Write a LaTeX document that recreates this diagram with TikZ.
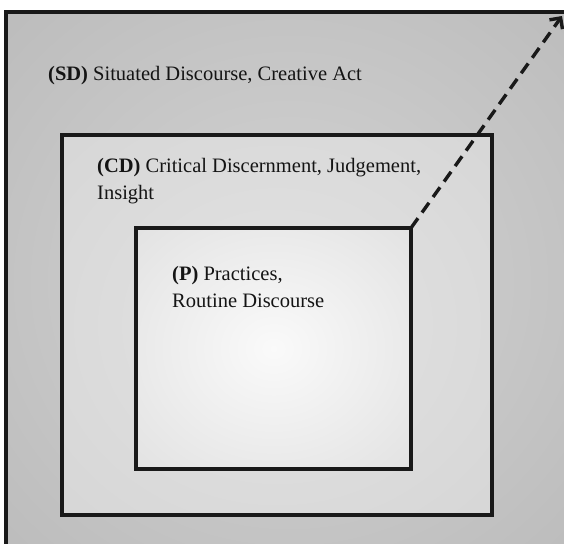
\documentclass[tikz,border=0pt]{standalone}
\usepackage{fontspec}
\setmainfont{Liberation Serif}
\usetikzlibrary{arrows.meta}

\definecolor{frame}{gray}{0.10}
\definecolor{sdIn}{gray}{0.83}
\definecolor{sdOut}{gray}{0.70}
\definecolor{cdIn}{gray}{0.89}
\definecolor{cdOut}{gray}{0.82}
\definecolor{pIn}{gray}{0.98}
\definecolor{pOut}{gray}{0.85}
\pgfdeclareradialshading{sdglow}{\pgfpoint{0bp}{0bp}}{color(0bp)=(sdIn); color(50bp)=(sdOut)}
\pgfdeclareradialshading{cdglow}{\pgfpoint{0bp}{0bp}}{color(0bp)=(cdIn); color(50bp)=(cdOut)}
\pgfdeclareradialshading{pglow}{\pgfpoint{0bp}{0bp}}{color(0bp)=(pIn); color(50bp)=(pOut)}

\begin{document}
\begin{tikzpicture}[x=1pt, y=-1pt,
    box/.style={draw=frame, line width=3.4pt, inner sep=0pt, outer sep=0pt, anchor=north west, shade},
    lbl/.style={anchor=base west, inner sep=0pt, align=left, text=black!92, font=\fontsize{20.5}{26.5}\selectfont}]
    \useasboundingbox (0,0) rectangle (564,543);
    \clip (0,0) rectangle (564,543);
    % nested levels
    \node[box, shading=sdglow, minimum width=566pt, minimum height=540pt] (SD) at (6,12) {};
    \node[box, shading=cdglow, minimum width=430pt, minimum height=380pt] (CD) at (62,135) {};
    \node[box, shading=pglow, minimum width=275pt, minimum height=241pt] (P) at (136,228) {};
    % labels (base = last line)
    \node[lbl] (SDtxt) at (48,80) {\textbf{(SD)} Situated Discourse, Creative Act};
    \node[lbl] (CDtxt) at (97,199) {\textbf{(CD)} Critical Discernment, Judgement,\\Insight};
    \node[lbl] (Ptxt) at (172,307) {\textbf{(P)} Practices,\\Routine Discourse};
    \coordinate (tip) at (562,16);
    \draw[frame, line width=3.4pt, dash pattern=on 12pt off 7pt, -{Straight Barb[length=8pt, width=16pt]}] (P.north east) -- (tip);
\end{tikzpicture}
\end{document}
